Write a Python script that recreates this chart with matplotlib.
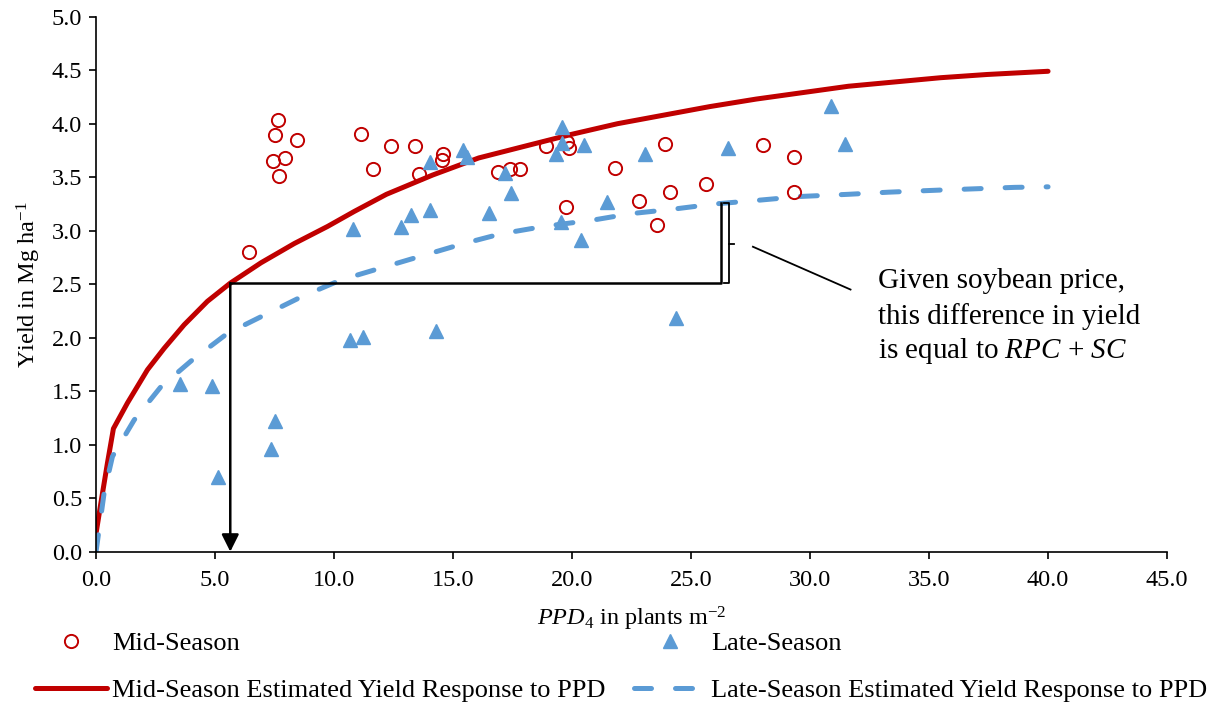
import matplotlib
matplotlib.use("Agg")
import matplotlib.pyplot as plt

plt.rcParams['font.family'] = ['Liberation Serif', 'DejaVu Serif']
plt.rcParams['mathtext.fontset'] = 'custom'
plt.rcParams['mathtext.rm'] = 'Liberation Serif'
plt.rcParams['mathtext.it'] = 'Liberation Serif:italic'

# observed yields, mid-season PPD
mid_ppd = [7.63, 7.53, 8.46, 7.43, 7.95, 7.70, 6.42, 11.12, 11.64, 12.40, 13.42, 13.59,
           14.58, 14.54, 16.9, 17.4, 17.8, 18.89, 19.8, 19.87, 19.74, 21.8, 23.91, 22.83,
           24.1, 23.59, 25.63, 28.03, 29.31, 29.31]
mid_yield = [4.03, 3.89, 3.85, 3.65, 3.68, 3.51, 2.80, 3.90, 3.58, 3.79, 3.79, 3.53,
             3.72, 3.66, 3.55, 3.58, 3.58, 3.79, 3.83, 3.77, 3.22, 3.59, 3.81, 3.28,
             3.36, 3.05, 3.44, 3.80, 3.69, 3.36]

# observed yields, late-season PPD
late_ppd = [3.51, 4.88, 5.13, 7.36, 7.53, 10.78, 10.69, 11.22, 12.83, 13.25, 14.02, 14.27,
            14.02, 15.43, 15.57, 16.49, 17.2, 17.45, 19.56, 19.56, 19.31, 20.5, 19.52,
            20.36, 21.46, 23.07, 24.38, 26.57, 30.88, 31.47]
late_yield = [1.57, 1.55, 0.70, 0.96, 1.22, 3.02, 1.98, 2.01, 3.03, 3.15, 3.19, 2.06,
              3.64, 3.75, 3.69, 3.17, 3.54, 3.35, 3.97, 3.82, 3.72, 3.80, 3.08,
              2.91, 3.27, 3.72, 2.18, 3.77, 4.17, 3.81]

# estimated response curves
mid_curve_x = [0.0, 0.2, 0.48, 0.73, 1.32, 2.16, 2.86, 3.70, 4.68, 5.64, 6.93, 8.33,
               9.73, 10.85, 12.20, 14.14, 16.08, 18.02, 19.97, 21.91, 23.85, 25.79,
               27.73, 29.67, 31.61, 33.55, 35.49, 37.44, 40.0]
mid_curve_y = [0.17, 0.45, 0.83, 1.15, 1.39, 1.70, 1.90, 2.12, 2.34, 2.51, 2.70, 2.88,
               3.04, 3.18, 3.34, 3.52, 3.68, 3.79, 3.90, 4.00, 4.08, 4.16,
               4.23, 4.29, 4.35, 4.39, 4.43, 4.46, 4.49]
late_curve_x = [0.0, 0.34, 0.69, 1.60, 2.72, 3.98, 5.52, 7.06, 8.61, 10.29, 11.95, 13.77,
                15.45, 17.0, 18.82, 20.9, 22.5, 24.2, 26.0, 27.6, 29.6, 31.6, 33.3,
                35.5, 38.6, 40.0]
late_curve_y = [0.0, 0.55, 0.89, 1.23, 1.54, 1.78, 2.04, 2.21, 2.38, 2.54, 2.65, 2.77,
                2.88, 2.97, 3.04, 3.10, 3.16, 3.20, 3.25, 3.28, 3.32, 3.34, 3.36,
                3.38, 3.405, 3.41]

# annotation anchors
ppd_opt = 5.64
ppd_late = 26.25
yield_mid = 2.51
yield_late = 3.26

red = '#C00000'
blue = '#5B9BD5'

fig = plt.figure(figsize=(12.25, 7.08), dpi=100)
ax = fig.add_axes([0.0784, 0.2208, 0.8743, 0.7556])

mid_line, = ax.plot(mid_curve_x, mid_curve_y, color=red, lw=3.6, solid_capstyle='round',
                    solid_joinstyle='round', zorder=2)
late_line, = ax.plot(late_curve_x, late_curve_y, color=blue, lw=3.6,
                     dashes=(3.4, 4.8), dash_capstyle='round', zorder=2)
mid_pts, = ax.plot(mid_ppd, mid_yield, ls='none', marker='o', ms=9.5, mfc='none',
                   mec=red, mew=1.4, zorder=3)
late_pts, = ax.plot(late_ppd, late_yield, ls='none', marker='^', ms=10.5, mfc=blue,
                    mec=blue, zorder=3)

# guide lines
ax.plot([ppd_opt, ppd_late, ppd_late], [yield_mid, yield_mid, yield_late],
        color='black', lw=1.8, zorder=4)
ax.annotate('', xy=(ppd_opt, 0.0), xytext=(ppd_opt, yield_mid),
            arrowprops=dict(arrowstyle='-|>', color='black', lw=1.8, mutation_scale=26,
                            shrinkA=0, shrinkB=0), zorder=4)

# bracket + leader
bx = 26.6
ax.plot([bx - 0.2, bx, bx, bx - 0.2], [yield_late, yield_late, yield_mid, yield_mid],
        color='black', lw=1.3)
ax.plot([bx, bx + 0.2], [2.88, 2.88], color='black', lw=1.3)
ax.plot([27.6, 31.7], [2.85, 2.45], color='black', lw=1.3)

note_x = 32.84
ax.text(note_x, 2.53, 'Given soybean price,', fontsize=21, va='center', ha='left')
ax.text(note_x, 2.20, 'this difference in yield', fontsize=21, va='center', ha='left')
ax.text(note_x, 1.88, 'is equal to $\\mathit{RPC}$ + $\\mathit{SC}$', fontsize=21,
        va='center', ha='left')

ax.set_xlim(0, 45)
ax.set_ylim(0, 5)
ax.set_xticks([i * 5 for i in range(10)])
ax.set_yticks([i * 0.5 for i in range(11)])
ax.xaxis.set_major_formatter(matplotlib.ticker.FormatStrFormatter('%.1f'))
ax.yaxis.set_major_formatter(matplotlib.ticker.FormatStrFormatter('%.1f'))
ax.tick_params(labelsize=17.5, length=5, width=1.2, direction='out')
ax.tick_params(axis='x', pad=8)
ax.tick_params(axis='y', pad=5)
for s in ['top', 'right']:
    ax.spines[s].set_visible(False)
for s in ['left', 'bottom']:
    ax.spines[s].set_linewidth(1.2)

ax.set_xlabel('$\\mathit{PPD}_{\\mathit{4}}$ in plants m$^{-2}$', fontsize=17.5, labelpad=10)
ax.set_ylabel('Yield in Mg ha$^{-1}$', fontsize=17.5, labelpad=6)

fig.legend([mid_pts, mid_line, late_pts, late_line],
           ['Mid-Season', 'Mid-Season Estimated Yield Response to PPD',
            'Late-Season', 'Late-Season Estimated Yield Response to PPD'],
           ncol=2, loc='upper center', bbox_to_anchor=(0.507, 0.127), frameon=False,
           borderpad=0, fontsize=19, handlelength=2.7, handletextpad=0.2,
           columnspacing=1.1, labelspacing=0.9)

fig.savefig('out.png', dpi=100)
